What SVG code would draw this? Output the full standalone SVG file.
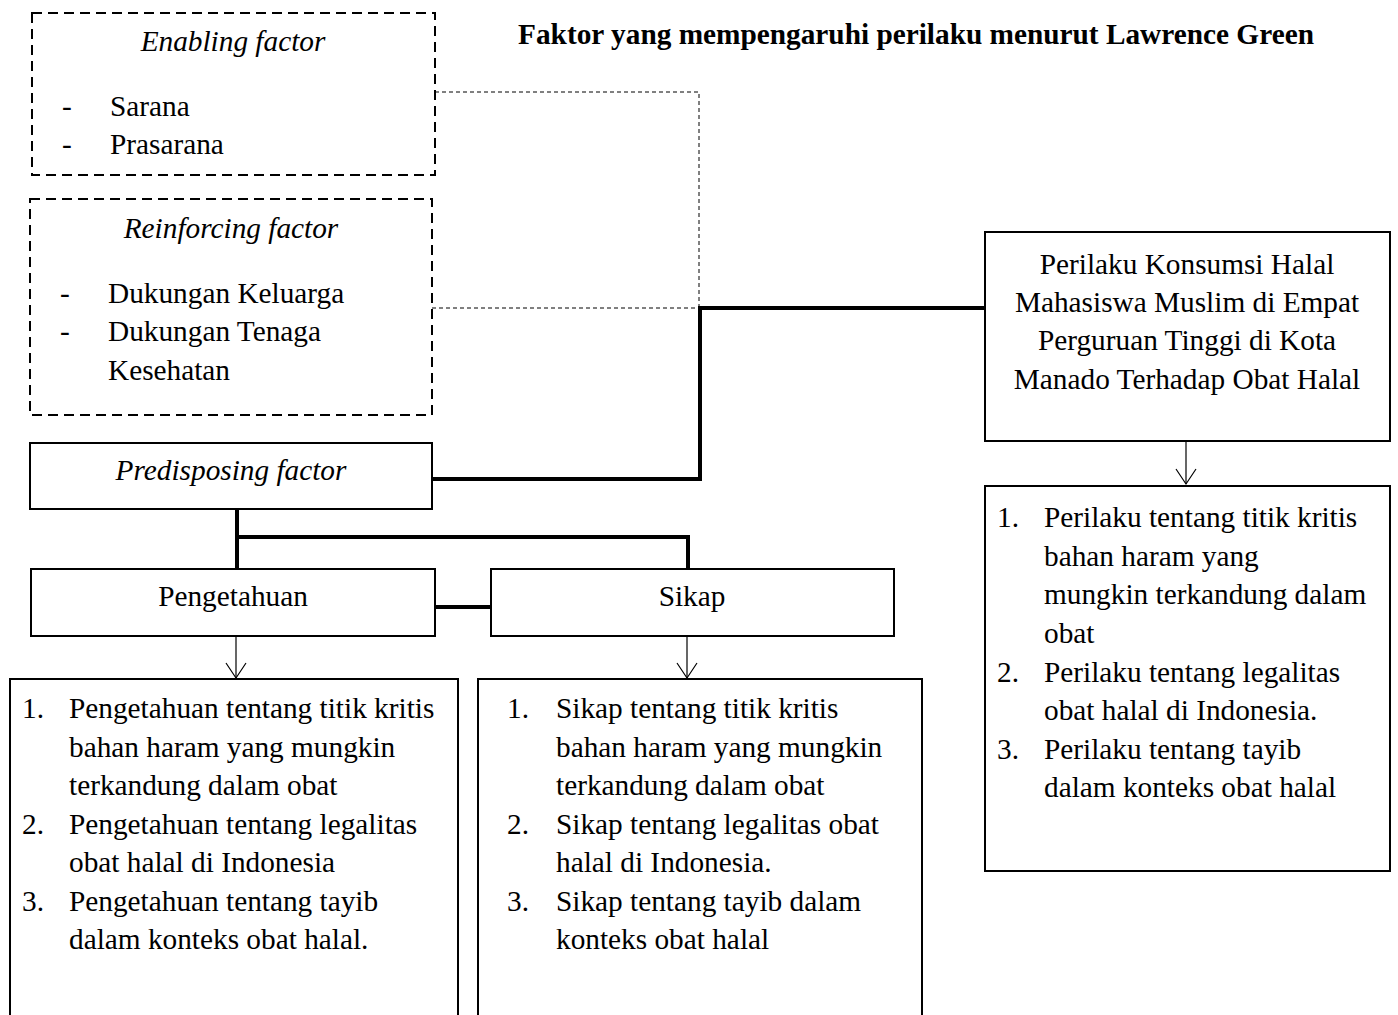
<svg xmlns="http://www.w3.org/2000/svg" width="1398" height="1015" viewBox="0 0 1398 1015">
<defs>
<marker id="v" markerWidth="18" markerHeight="24" refX="16" refY="11" orient="auto" markerUnits="userSpaceOnUse" viewBox="0 0 18 22">
<path d="M1,1 L16,11 L1,21" fill="none" stroke="#000" stroke-width="1.2"/>
</marker>
</defs>
<style>
text{font-family:"Liberation Serif","Times New Roman",serif;font-size:29.3px;fill:#000}
.i{font-style:italic}
.c{text-anchor:middle}
.b{font-weight:bold}
.box{fill:#fff;stroke:#000;stroke-width:2}
.dbox{fill:none;stroke:#000;stroke-width:2;stroke-dasharray:10 6}
.thick{fill:none;stroke:#000;stroke-width:4}
.thin{fill:none;stroke:#000;stroke-width:1;stroke-dasharray:4 3}
.arr{fill:none;stroke:#000;stroke-width:1.2}
</style>
<rect width="1398" height="1015" fill="#fff"/>
<text class="b c" x="916" y="44">Faktor yang mempengaruhi perilaku menurut Lawrence Green</text>

<g id="connectors">
<polyline class="thin" points="435,92 699,92 699,308"/>
<line class="thin" x1="432" y1="308" x2="699" y2="308"/>
<polyline class="thick" points="432,479 700,479 700,308 985,308"/>
<line class="thick" x1="237" y1="509" x2="237" y2="569"/>
<polyline class="thick" points="237,537 688,537 688,569"/>
<line class="thick" x1="435" y1="607" x2="491" y2="607"/>
<line class="arr" x1="236" y1="637" x2="236" y2="678" marker-end="url(#v)"/>
<line class="arr" x1="687" y1="637" x2="687" y2="678" marker-end="url(#v)"/>
<line class="arr" x1="1186" y1="441" x2="1186" y2="484" marker-end="url(#v)"/>
</g>

<g id="enabling">
<rect class="dbox" x="32" y="13" width="403" height="162"/>
<text class="i c" x="233" y="51">Enabling factor</text>
<text x="62" y="116">-</text><text x="110" y="116">Sarana</text>
<text x="62" y="154">-</text><text x="110" y="154">Prasarana</text>
</g>

<g id="reinforcing">
<rect class="dbox" x="30" y="199" width="402" height="216"/>
<text class="i c" x="231" y="238">Reinforcing factor</text>
<text x="60" y="303">-</text><text x="108" y="303">Dukungan Keluarga</text>
<text x="60" y="341">-</text><text x="108" y="341">Dukungan Tenaga</text>
<text x="108" y="380">Kesehatan</text>
</g>

<g id="predisposing">
<rect class="box" x="30" y="443" width="402" height="66"/>
<text class="i c" x="231" y="480">Predisposing factor</text>
</g>

<g id="pengetahuan">
<rect class="box" x="31" y="569" width="404" height="67"/>
<text class="c" x="233" y="606">Pengetahuan</text>
</g>

<g id="sikap">
<rect class="box" x="491" y="569" width="403" height="67"/>
<text class="c" x="692" y="606">Sikap</text>
</g>

<g id="pengetahuan-list">
<rect class="box" x="10" y="679" width="448" height="345"/>
<text x="22" y="718">1.</text><text x="69" y="718">Pengetahuan tentang titik kritis</text>
<text x="69" y="757">bahan haram yang mungkin</text>
<text x="69" y="795">terkandung dalam obat</text>
<text x="22" y="834">2.</text><text x="69" y="834">Pengetahuan tentang legalitas</text>
<text x="69" y="872">obat halal di Indonesia</text>
<text x="22" y="911">3.</text><text x="69" y="911">Pengetahuan tentang tayib</text>
<text x="69" y="949">dalam konteks obat halal.</text>
</g>

<g id="sikap-list">
<rect class="box" x="478" y="679" width="444" height="345"/>
<text x="507" y="718">1.</text><text x="556" y="718">Sikap tentang titik kritis</text>
<text x="556" y="757">bahan haram yang mungkin</text>
<text x="556" y="795">terkandung dalam obat</text>
<text x="507" y="834">2.</text><text x="556" y="834">Sikap tentang legalitas obat</text>
<text x="556" y="872">halal di Indonesia.</text>
<text x="507" y="911">3.</text><text x="556" y="911">Sikap tentang tayib dalam</text>
<text x="556" y="949">konteks obat halal</text>
</g>

<g id="perilaku">
<rect class="box" x="985" y="232" width="405" height="209"/>
<text class="c" x="1187" y="274">Perilaku Konsumsi Halal</text>
<text class="c" x="1187" y="312">Mahasiswa Muslim di Empat</text>
<text class="c" x="1187" y="350">Perguruan Tinggi di Kota</text>
<text class="c" x="1187" y="389">Manado Terhadap Obat Halal</text>
</g>

<g id="perilaku-list">
<rect class="box" x="985" y="486" width="405" height="385"/>
<text x="997" y="527">1.</text><text x="1044" y="527">Perilaku tentang titik kritis</text>
<text x="1044" y="566">bahan haram yang</text>
<text x="1044" y="604">mungkin terkandung dalam</text>
<text x="1044" y="643">obat</text>
<text x="997" y="682">2.</text><text x="1044" y="682">Perilaku tentang legalitas</text>
<text x="1044" y="720">obat halal di Indonesia.</text>
<text x="997" y="759">3.</text><text x="1044" y="759">Perilaku tentang tayib</text>
<text x="1044" y="797">dalam konteks obat halal</text>
</g>
</svg>
